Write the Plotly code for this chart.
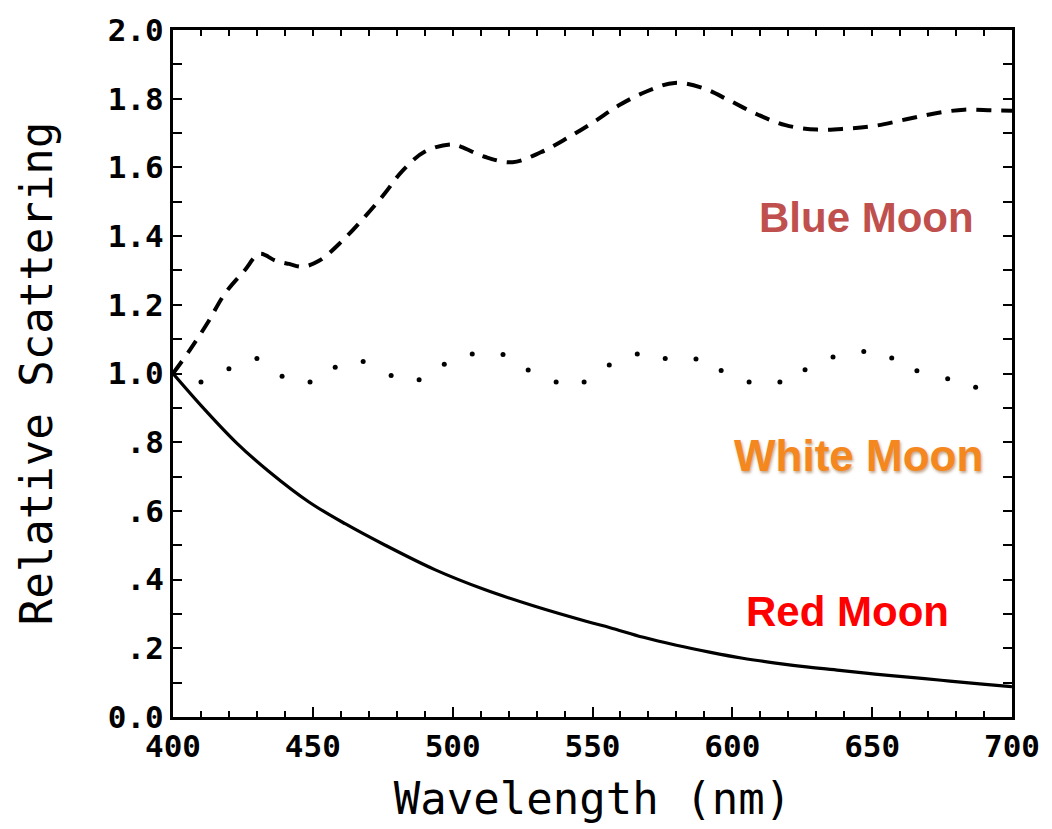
import plotly.graph_objects as go

# Relative scattering vs wavelength for three particle-size regimes

# Red Moon: small particles, strong fall-off with wavelength (solid)
red_wl = [400, 410.8, 422.6, 434.4, 448.6, 461.7, 475.9, 493.6, 511.4, 529.1,
          548, 556.3, 568.2, 580, 591.8, 603.7, 615.5, 627.3, 639.2, 651, 662.8,
          674.7, 686.5, 697.7, 700]
red_val = [1.0, 0.900, 0.799, 0.714, 0.626, 0.562, 0.500, 0.429, 0.371, 0.323,
           0.278, 0.260, 0.232, 0.209, 0.189, 0.171, 0.157, 0.145, 0.135, 0.125, 0.116,
           0.107, 0.098, 0.090, 0.088]

# Blue Moon: particles that scatter red more than blue (dashed)
blue_wl = [400, 406, 412.5, 418.5, 425.6, 430.9, 436.8, 441.5, 446.3, 452.2, 460.5,
           468.8, 475.9, 481.8, 490.1, 499.5, 503, 511.4, 521.4, 531.5, 540.9, 550.4,
           559.3, 569.3, 579.4, 589.5, 598.9, 609, 619, 630.3, 640.9, 651, 662.2,
           672.3, 682.9, 693, 700]
blue_val = [1.0, 1.068, 1.149, 1.232, 1.300, 1.348, 1.328, 1.319, 1.311, 1.328, 1.386,
            1.458, 1.526, 1.588, 1.646, 1.667, 1.660, 1.631, 1.615, 1.644, 1.685, 1.732,
            1.780, 1.821, 1.846, 1.831, 1.795, 1.754, 1.723, 1.710, 1.713, 1.721, 1.740,
            1.757, 1.768, 1.766, 1.765]

# White Moon: large particles, nearly flat response (dotted)
white_wl = [400, 410, 420, 430, 439, 449, 458, 468, 478, 488, 497, 507, 518, 527, 537,
            547, 556, 566, 576, 587, 596, 606, 617, 626, 636, 647, 657, 666, 677, 687]
white_val = [1.0, 0.975, 1.014, 1.044, 0.992, 0.975, 1.018, 1.035, 0.994, 0.982, 1.027,
             1.057, 1.055, 1.010, 0.975, 0.975, 1.025, 1.057, 1.044, 1.042, 1.009, 0.975,
             0.975, 1.011, 1.048, 1.064, 1.045, 1.008, 0.985, 0.960]

y_tickvals = [0, 0.2, 0.4, 0.6, 0.8, 1.0, 1.2, 1.4, 1.6, 1.8, 2.0]
y_ticktext = ["0.0", ".2", ".4", ".6", ".8", "1.0", "1.2", "1.4", "1.6", "1.8", "2.0"]
x_tickvals = [400, 450, 500, 550, 600, 650, 700]
x_ticktext = ["400", "450", "500", "550", "600", "650", "700"]

X_RANGE = [400, 700]
Y_RANGE = [0, 2.0]
MONO = "DejaVu Sans Mono"

fig = go.Figure()
fig.add_trace(go.Scatter(x=red_wl, y=red_val, mode="lines", line_shape="spline",
                         line=dict(color="black", width=3.2), name="Red Moon"))
fig.add_trace(go.Scatter(x=blue_wl, y=blue_val, mode="lines", line_shape="spline",
                         line=dict(color="black", width=4, dash="15px,10px"),
                         name="Blue Moon"))
fig.add_trace(go.Scatter(x=white_wl, y=white_val, mode="markers",
                         marker=dict(color="black", size=5), name="White Moon"))
# empty trace that registers the top/right tick axes
fig.add_trace(go.Scatter(x=[], y=[], xaxis="x2", yaxis="y2", showlegend=False,
                         hoverinfo="skip"))

fig.add_annotation(x=648, y=1.455, text="<b>Blue Moon</b>", showarrow=False,
                   font=dict(family="Liberation Sans", size=42, color="#C0504D"))
fig.add_annotation(x=645, y=0.762, text="<b>White Moon</b>", showarrow=False,
                   font=dict(family="Liberation Sans", size=44, color="#F5871F",
                             shadow="1px 2px 3px rgba(120,60,0,0.45)"))
fig.add_annotation(x=641, y=0.306, text="<b>Red Moon</b>", showarrow=False,
                   font=dict(family="Liberation Sans", size=42, color="#FF0000"))

tick_common = dict(ticks="inside", tickwidth=2, tickcolor="black",
                   showgrid=False, zeroline=False)

fig.update_layout(
    width=1052, height=829,
    margin=dict(l=173, r=34, t=24, b=112),
    paper_bgcolor="white", plot_bgcolor="white",
    showlegend=False,
    xaxis=dict(
        range=X_RANGE, tickvals=x_tickvals, ticktext=x_ticktext,
        showline=True, linecolor="black", linewidth=3, mirror=True,
        ticklen=10,
        minor=dict(dtick=10, ticks="inside", ticklen=6, tickwidth=2,
                   tickcolor="black", showgrid=False),
        tickfont=dict(family=MONO, size=31, color="black", weight="bold"),
        title=dict(text="Wavelength (nm)", standoff=20,
                   font=dict(family=MONO, size=44, color="black")),
        **tick_common,
    ),
    yaxis=dict(
        range=Y_RANGE, tickvals=y_tickvals, ticktext=y_ticktext,
        showline=True, linecolor="black", linewidth=3, mirror=True,
        ticklen=9,
        minor=dict(dtick=0.1, ticks="inside", ticklen=9, tickwidth=2,
                   tickcolor="black", showgrid=False),
        tickfont=dict(family=MONO, size=31, color="black", weight="bold"),
        title=dict(text="Relative Scattering", standoff=42,
                   font=dict(family=MONO, size=44, color="black")),
        **tick_common,
    ),
    xaxis2=dict(
        overlaying="x", side="top", range=X_RANGE, dtick=10, tick0=400,
        ticklen=6, showticklabels=False, showline=False, **tick_common,
    ),
    yaxis2=dict(
        overlaying="y", side="right", range=Y_RANGE, dtick=0.1, tick0=0,
        ticklen=9, showticklabels=False, showline=False, **tick_common,
    ),
)

fig.write_html("out.html")
